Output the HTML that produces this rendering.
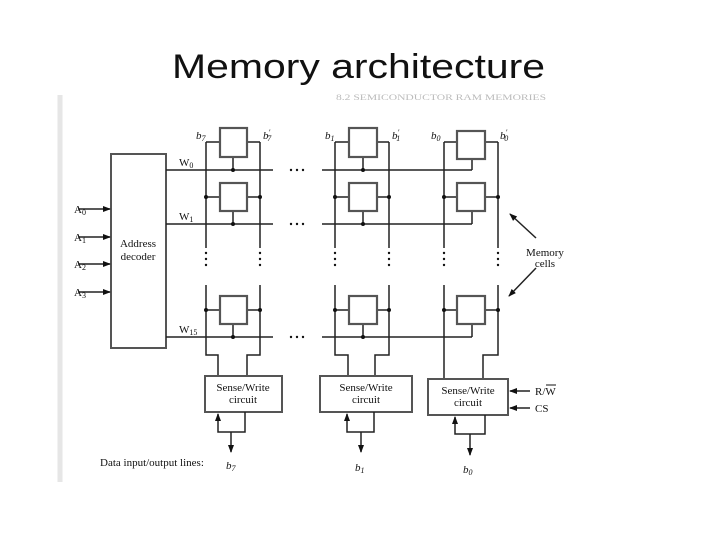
<!DOCTYPE html>
<html><head><meta charset="utf-8"><style>
html,body{margin:0;padding:0;background:#fff;}
svg{display:block}
text{font-family:"Liberation Serif",serif;fill:#111}
</style></head><body>
<svg width="720" height="540" viewBox="0 0 720 540" xmlns="http://www.w3.org/2000/svg">
<defs>
<marker id="ar" markerWidth="8" markerHeight="8" refX="7" refY="4" orient="auto" markerUnits="userSpaceOnUse">
<path d="M0,1 L8,4 L0,7 Z" fill="#111"/></marker>
</defs>
<rect x="0" y="0" width="720" height="540" fill="#fff"/>
<line x1="60" y1="95" x2="60" y2="482" stroke="#e6e6e6" stroke-width="5"/>
<text x="172" y="78" style="font-family:'Liberation Sans',sans-serif" font-size="34" textLength="373" lengthAdjust="spacingAndGlyphs">Memory architecture</text>
<text x="336" y="100" font-size="8" style="fill:#bbb" textLength="210" lengthAdjust="spacingAndGlyphs">8.2   SEMICONDUCTOR RAM MEMORIES</text>

<g stroke="#222" stroke-width="1.5" fill="none">
<rect x="111" y="154" width="55" height="194" stroke="#555" stroke-width="2"/>
<path d="M166,170H273M322,170H472 M166,224H273M322,224H472 M166,337H273M322,337H472"/>
<path d="M206,142V248M206,285V355H218V376 M260,142V248M260,285V355H247V376"/>
<path d="M335,142V248M335,285V355H348V376 M389,142V248M389,285V355H375V376"/>
<path d="M444,142V248M444,285V379 M498,142V248M498,285V355H483V379"/>
<path d="M206,142H220M247,142H260 M206,197H220M247,197H260 M206,310H220M247,310H260"/>
<path d="M335,142H349M377,142H389 M335,197H349M377,197H389 M335,310H349M377,310H389"/>
<path d="M444,142H457M485,142H498 M444,197H457M485,197H498 M444,310H457M485,310H498"/>
<path d="M233,157V170M233,211V224M233,324V337 M363,157V170M363,211V224M363,324V337 M472,159V170M472,211V224M472,324V337"/>
</g>
<g fill="#fff" stroke="#555" stroke-width="2.2">
<rect x="220" y="128" width="27" height="29"/><rect x="220" y="183" width="27" height="28"/><rect x="220" y="296" width="27" height="28"/>
<rect x="349" y="128" width="28" height="29"/><rect x="349" y="183" width="28" height="28"/><rect x="349" y="296" width="28" height="28"/>
<rect x="457" y="131" width="28" height="28"/><rect x="457" y="183" width="28" height="28"/><rect x="457" y="296" width="28" height="28"/>
</g>
<g fill="#111">
<circle cx="233" cy="170" r="2"/><circle cx="233" cy="224" r="2"/><circle cx="233" cy="337" r="2"/>
<circle cx="363" cy="170" r="2"/><circle cx="363" cy="224" r="2"/><circle cx="363" cy="337" r="2"/>
<circle cx="206" cy="197" r="2"/><circle cx="260" cy="197" r="2"/><circle cx="206" cy="310" r="2"/><circle cx="260" cy="310" r="2"/>
<circle cx="335" cy="197" r="2"/><circle cx="389" cy="197" r="2"/><circle cx="335" cy="310" r="2"/><circle cx="389" cy="310" r="2"/>
<circle cx="444" cy="197" r="2"/><circle cx="498" cy="197" r="2"/><circle cx="444" cy="310" r="2"/><circle cx="498" cy="310" r="2"/>
<g>
<circle cx="206" cy="253" r="1.2"/><circle cx="206" cy="259" r="1.2"/><circle cx="206" cy="265" r="1.2"/>
<circle cx="260" cy="253" r="1.2"/><circle cx="260" cy="259" r="1.2"/><circle cx="260" cy="265" r="1.2"/>
<circle cx="335" cy="253" r="1.2"/><circle cx="335" cy="259" r="1.2"/><circle cx="335" cy="265" r="1.2"/>
<circle cx="389" cy="253" r="1.2"/><circle cx="389" cy="259" r="1.2"/><circle cx="389" cy="265" r="1.2"/>
<circle cx="444" cy="253" r="1.2"/><circle cx="444" cy="259" r="1.2"/><circle cx="444" cy="265" r="1.2"/>
<circle cx="498" cy="253" r="1.2"/><circle cx="498" cy="259" r="1.2"/><circle cx="498" cy="265" r="1.2"/>
</g>
<g>
<circle cx="291" cy="170" r="1.2"/><circle cx="297" cy="170" r="1.2"/><circle cx="303" cy="170" r="1.2"/>
<circle cx="291" cy="224" r="1.2"/><circle cx="297" cy="224" r="1.2"/><circle cx="303" cy="224" r="1.2"/>
<circle cx="291" cy="337" r="1.2"/><circle cx="297" cy="337" r="1.2"/><circle cx="303" cy="337" r="1.2"/>
</g>
</g>

<g fill="#fff" stroke="#555" stroke-width="2">
<rect x="205" y="376" width="77" height="36"/>
<rect x="320" y="376" width="92" height="36"/>
<rect x="428" y="379" width="80" height="36"/>
</g>
<g font-size="11" text-anchor="middle">
<text x="243" y="391">Sense/Write</text><text x="243" y="403">circuit</text>
<text x="366" y="391">Sense/Write</text><text x="366" y="403">circuit</text>
<text x="468" y="394">Sense/Write</text><text x="468" y="406">circuit</text>
</g>
<g stroke="#222" stroke-width="1.5" fill="none">
<path d="M245,412V432H218V414" marker-end="url(#ar)"/>
<path d="M231,432V452" marker-end="url(#ar)"/>
<path d="M374,412V432H347V414" marker-end="url(#ar)"/>
<path d="M361,432V452" marker-end="url(#ar)"/>
<path d="M485,415V434H455V417" marker-end="url(#ar)"/>
<path d="M470,434V455" marker-end="url(#ar)"/>
<path d="M530,391H510" marker-end="url(#ar)"/>
<path d="M530,408H510" marker-end="url(#ar)"/>
<path d="M78,209H110" marker-end="url(#ar)"/>
<path d="M78,237H110" marker-end="url(#ar)"/>
<path d="M78,264H110" marker-end="url(#ar)"/>
<path d="M78,292H110" marker-end="url(#ar)"/>
<path d="M536,238L510,214" marker-end="url(#ar)"/>
<path d="M536,268L509,296" marker-end="url(#ar)"/>
</g>

<g font-size="11">
<text x="74" y="213">A<tspan font-size="8" dy="2">0</tspan></text>
<text x="74" y="241">A<tspan font-size="8" dy="2">1</tspan></text>
<text x="74" y="268">A<tspan font-size="8" dy="2">2</tspan></text>
<text x="74" y="296">A<tspan font-size="8" dy="2">3</tspan></text>
<text x="138" y="247" text-anchor="middle">Address</text>
<text x="138" y="260" text-anchor="middle">decoder</text>
<text x="179" y="166">W<tspan font-size="8" dy="2">0</tspan></text>
<text x="179" y="220">W<tspan font-size="8" dy="2">1</tspan></text>
<text x="179" y="333">W<tspan font-size="8" dy="2">15</tspan></text>
<text x="196" y="139" font-style="italic">b<tspan font-size="8" dy="2">7</tspan></text>
<text x="263" y="139" font-style="italic">b<tspan font-size="8" dy="-4">′</tspan><tspan font-size="8" dx="-3" dy="6">7</tspan></text>
<text x="325" y="139" font-style="italic">b<tspan font-size="8" dy="2">1</tspan></text>
<text x="392" y="139" font-style="italic">b<tspan font-size="8" dy="-4">′</tspan><tspan font-size="8" dx="-3" dy="6">1</tspan></text>
<text x="431" y="139" font-style="italic">b<tspan font-size="8" dy="2">0</tspan></text>
<text x="500" y="139" font-style="italic">b<tspan font-size="8" dy="-4">′</tspan><tspan font-size="8" dx="-3" dy="6">0</tspan></text>
<text x="545" y="256" text-anchor="middle">Memory</text>
<text x="545" y="267" text-anchor="middle">cells</text>
<text x="535" y="395">R/W</text>
<line x1="546" y1="385" x2="556" y2="385" stroke="#111" stroke-width="1"/>
<text x="535" y="412">CS</text>
<text x="100" y="466">Data input/output lines:</text>
<text x="226" y="469" font-style="italic">b<tspan font-size="8" dy="2">7</tspan></text>
<text x="355" y="471" font-style="italic">b<tspan font-size="8" dy="2">1</tspan></text>
<text x="463" y="473" font-style="italic">b<tspan font-size="8" dy="2">0</tspan></text>
</g>
</svg>
</body></html>
